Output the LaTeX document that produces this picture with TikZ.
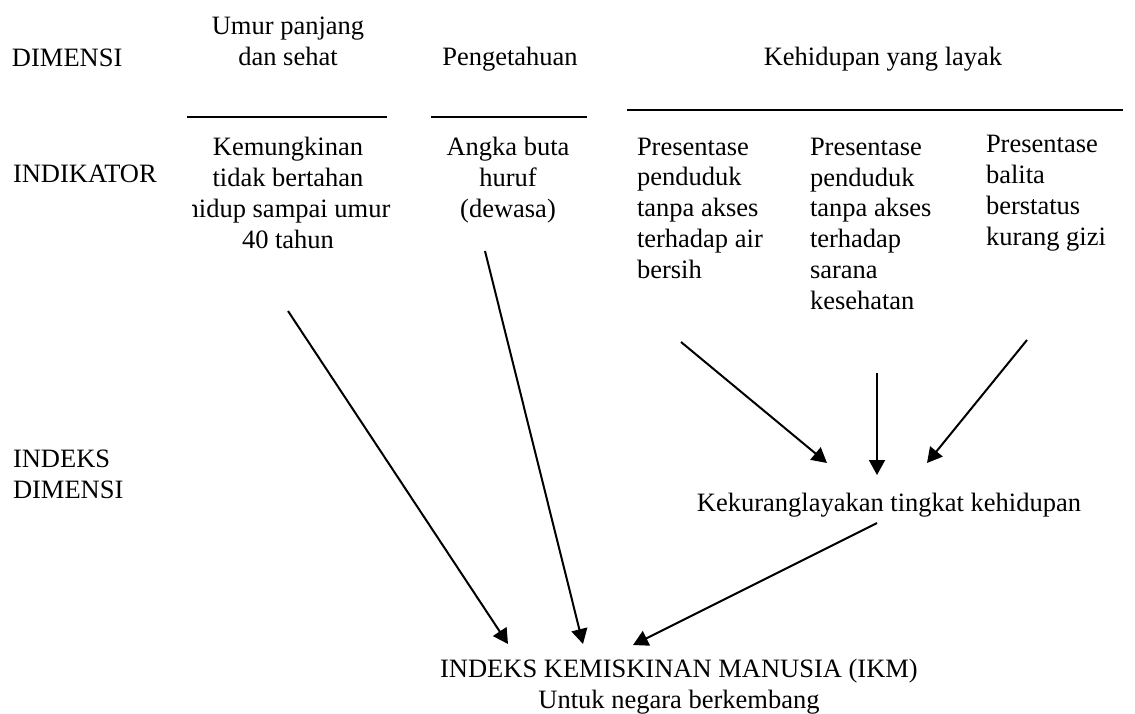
\documentclass[tikz,border=0pt]{standalone}
\usepackage{fontspec}
\setmainfont{Liberation Serif}
\usetikzlibrary{arrows.meta}
\tikzset{
  txt/.style={font=\fontsize{26.5}{30.7}\selectfont, inner sep=0pt, outer sep=0pt},
  ctxt/.style={txt, align=center, anchor=base},
  ltxt/.style={txt, align=left, anchor=base west},
  rule/.style={line width=2pt},
  arr/.style={line width=2pt, -{Triangle[length=15pt,width=16pt]}}
}
\begin{document}
\begin{tikzpicture}[x=1pt,y=-1pt]
\useasboundingbox (0,0) rectangle (1135,713);
% row labels (anchor = baseline of the last line)
\node[ltxt] (dim) at (12,66) {DIMENSI};
\node[ltxt] (ind) at (13,182) {INDIKATOR};
\node[ltxt] (idx) at (13,498) {INDEKS\\DIMENSI};
% dimensions
\node[ctxt] (d1) at (288,65.5) {Umur panjang\\dan sehat};
\node[ctxt] (d2) at (510,65) {Pengetahuan};
\node[ctxt] (d3) at (883,65) {Kehidupan yang layak};
% rules
\draw[rule] (187,117) -- (387,117);
\draw[rule] (431,117) -- (587,117);
\draw[rule] (627,110) -- (1123,110);
% indicators
\begin{scope}
\clip (192,120) rectangle (420,300);
\node[ctxt] (i1) at (288,248) {Kemungkinan\\tidak bertahan\\hidup sampai umur\\40 tahun};
\end{scope}
\node[ctxt] (i2) at (508,217) {Angka buta\\huruf\\(dewasa)};
\node[ltxt] (i3) at (637,278) {Presentase\\penduduk\\tanpa akses\\terhadap air\\bersih};
\node[ltxt] (i4) at (810,309) {Presentase\\penduduk\\tanpa akses\\terhadap\\sarana\\kesehatan};
\node[ltxt] (i5) at (986,245) {Presentase\\balita\\berstatus\\kurang gizi};
% dimension index
\node[ctxt] (k) at (889,511) {Kekuranglayakan tingkat kehidupan};
% final
\node[ctxt] (ikm) at (679,708) {INDEKS KEMISKINAN MANUSIA (IKM)\\Untuk negara berkembang};
% arrow endpoints
\coordinate (a1s) at (288,311); \coordinate (a1e) at (508,644);
\coordinate (a2s) at (485,251); \coordinate (a2e) at (583,644);
\coordinate (a3s) at (681,342); \coordinate (a3e) at (827,463);
\coordinate (a4s) at (877,373); \coordinate (a4e) at (877,475);
\coordinate (a5s) at (1027,340); \coordinate (a5e) at (927,463);
\coordinate (a6s) at (877,523); \coordinate (a6e) at (633,645);
\draw[arr] (a1s) -- (a1e);
\draw[arr] (a2s) -- (a2e);
\draw[arr] (a3s) -- (a3e);
\draw[arr] (a4s) -- (a4e);
\draw[arr] (a5s) -- (a5e);
\draw[arr] (a6s) -- (a6e);
\end{tikzpicture}
\end{document}
